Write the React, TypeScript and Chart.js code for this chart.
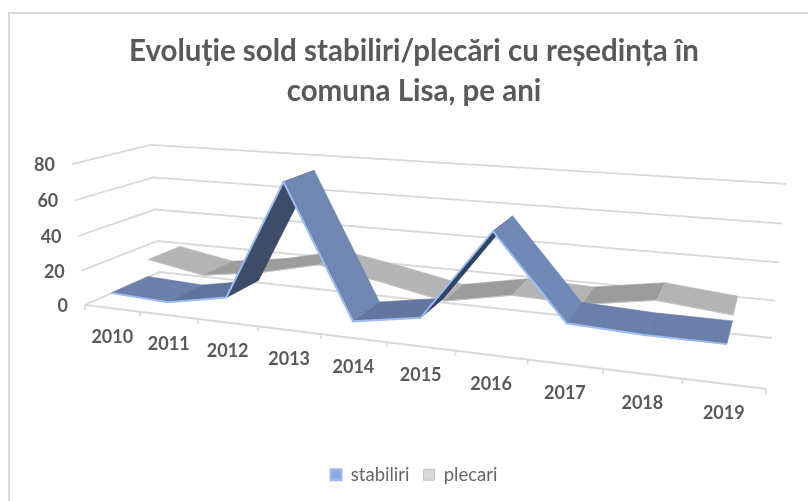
import React, { useEffect, useRef } from "react";
import { Chart, registerables } from "chart.js";

Chart.register(...registerables);

const categories = ["2010", "2011", "2012", "2013", "2014", "2015", "2016", "2017", "2018", "2019"];
const stabiliri = [9, 7.5, 14, 78.5, 9, 15, 62, 20.5, 19, 19];
const plecari = [19, 13, 18, 26, 20, 13, 20, 19, 25, 21.5];
const valueTicks = [0, 20, 40, 60, 80];
const stabiliriFaces = ["#6b80aa", "#5f749d", "#3d4c68", "#7087b1", "#62769f", "#2f4363", "#7189b6", "#6a80ab", "#6a80ab"];
const plecariFaces = ["#b4b4b4", "#9c9c9c", "#9c9c9c", "#b4b4b4", "#b4b4b4", "#9c9c9c", "#b4b4b4", "#9c9c9c", "#b4b4b4"];

// Perspective of the floor and the vertical vanishing direction of the 3D box.
const GX = -0.2047, GY = 0.1146;
const floorA = 525, floorB = 160 * (1 + GY) - 85, floorC = 85;
const floorD = 389 * (1 + GX) - 305, floorE = 272 * (1 + GY) - 305, floorF = 305;
const vanish = { x: 434, y: 4091, k: -0.0359 };
const AXIS_MAX = 80;
const Z = { stabFront: 0.0, stabBack: 0.48, plecFront: 0.5, plecBack: 0.95 };

function project(t: number, z: number, value: number) {
  const w0 = GX * t + GY * z + 1;
  const x0 = floorA * t + floorB * z + floorC;
  const y0 = floorD * t + floorE * z + floorF;
  const h = (value / AXIS_MAX) * vanish.k;
  const w = w0 + h;
  return { x: (x0 + h * vanish.x) / w, y: (y0 + h * vanish.y) / w };
}

const band = (i: number) => (i + 0.5) / categories.length;
const edge = (values: number[], z: number) => values.map((v, i) => project(band(i), z, v));
const FONT = "Lato, 'Noto Sans', sans-serif";

const box3d = {
  id: "box3d",
  beforeDraw(chart: any) {
    const c = chart.ctx;
    c.save();
    c.strokeStyle = "#d9d9d9";
    c.lineWidth = 2;
    c.beginPath();
    c.moveTo(9, 501);
    c.lineTo(9, 13);
    c.lineTo(808, 13);
    c.stroke();
    c.restore();
  },
  beforeDatasetsDraw(chart: any) {
    const c = chart.ctx;
    const sx = chart.scales.x, sy = chart.scales.y;
    const move = (p: any) => c.moveTo(sx.getPixelForValue(p.x), sy.getPixelForValue(p.y));
    const to = (p: any) => c.lineTo(sx.getPixelForValue(p.x), sy.getPixelForValue(p.y));
    c.save();
    c.strokeStyle = "#d9d9d9";
    c.lineWidth = 1.8;
    for (const v of valueTicks) {
      c.beginPath();
      move(project(0, 0, v));
      to(project(0, 1, v));
      to(project(1, 1, v));
      c.stroke();
    }
    c.beginPath();
    move(project(0, 0, 0));
    to(project(1, 0, 0));
    for (let i = 0; i <= categories.length; i++) {
      const p = project(i / categories.length, 0, 0);
      move(p);
      to({ x: p.x, y: p.y + 5 });
    }
    c.stroke();
    c.fillStyle = "#595959";
    c.font = `bold 18px ${FONT}`;
    c.textBaseline = "middle";
    c.textAlign = "right";
    for (const v of valueTicks) {
      const p = project(0, 0, v);
      c.fillText(String(v), sx.getPixelForValue(p.x) - 17, sy.getPixelForValue(p.y) + 1);
    }
    c.textAlign = "center";
    categories.forEach((label, i) => {
      const p = project(band(i), 0, 0);
      c.fillText(label, sx.getPixelForValue(p.x), sy.getPixelForValue(p.y) + 29);
    });
    c.restore();
  },
  beforeDatasetDraw(chart: any, args: any) {
    if (args.index > 1) return;
    const front = chart.getDatasetMeta(args.index).data;
    const back = chart.getDatasetMeta(args.index + 2).data;
    const colors = args.index === 0 ? stabiliriFaces : plecariFaces;
    const c = chart.ctx;
    c.save();
    for (let i = 0; i < front.length - 1; i++) {
      c.fillStyle = colors[i];
      c.strokeStyle = colors[i];
      c.lineWidth = 0.6;
      c.beginPath();
      c.moveTo(front[i].x, front[i].y);
      c.lineTo(front[i + 1].x, front[i + 1].y);
      c.lineTo(back[i + 1].x, back[i + 1].y);
      c.lineTo(back[i].x, back[i].y);
      c.closePath();
      c.fill();
      c.stroke();
    }
    c.restore();
  },
};

export default function App() {
  const ref = useRef<HTMLCanvasElement>(null);
  useEffect(() => {
    document.body.style.margin = "0";
    const line = (label: string, data: any[], color: string, fillColor: string, width: number) => ({
      label,
      data,
      borderColor: color,
      backgroundColor: fillColor,
      borderWidth: width,
      pointRadius: 0,
      tension: 0,
      fill: false,
      clip: false as const,
    });
    const chart = new Chart(ref.current!, {
      type: "scatter",
      data: {
        datasets: [
          { ...line("stabiliri", edge(stabiliri, Z.stabFront), "#9dbcf0", "#8faadc", 2), showLine: true },
          { ...line("plecari", edge(plecari, Z.plecFront), "#c4c4c4", "#d9d9d9", 1), showLine: true },
          { ...line("", edge(stabiliri, Z.stabBack), "rgba(0,0,0,0)", "rgba(0,0,0,0)", 0), showLine: false },
          { ...line("", edge(plecari, Z.plecBack), "rgba(0,0,0,0)", "rgba(0,0,0,0)", 0), showLine: false },
        ],
      },
      options: {
        responsive: false,
        animation: false,
        layout: { padding: { left: 20, bottom: 7 } },
        events: [],
        plugins: {
          title: {
            display: true,
            text: ["Evoluție sold stabiliri/plecări cu reședința în", "comuna Lisa, pe ani"],
            color: "#595959",
            font: { family: FONT, size: 29.5, weight: "bold", lineHeight: 1.35 },
            padding: { top: 32, bottom: 10 },
          },
          legend: {
            position: "bottom",
            labels: {
              boxWidth: 11,
              boxHeight: 11,
              color: "#666666",
              font: { family: FONT, size: 18.5 },
              padding: 14,
              filter: (item: any) => item.datasetIndex < 2,
            },
          },
          tooltip: { enabled: false },
        },
        scales: {
          x: { type: "linear", display: false, min: 0, max: 808 },
          y: { type: "linear", display: false, reverse: true, min: 0, max: 501 },
        },
      },
      plugins: [box3d],
    } as any);
    // The projected points are in page units, so align the scales with the plot area.
    const a = chart.chartArea;
    const o: any = chart.options.scales;
    o.x.min = a.left; o.x.max = a.right;
    o.y.min = a.top; o.y.max = a.bottom;
    chart.update();
    return () => chart.destroy();
  }, []);
  return <canvas ref={ref} width={808} height={501} style={{ display: "block" }} />;
}
